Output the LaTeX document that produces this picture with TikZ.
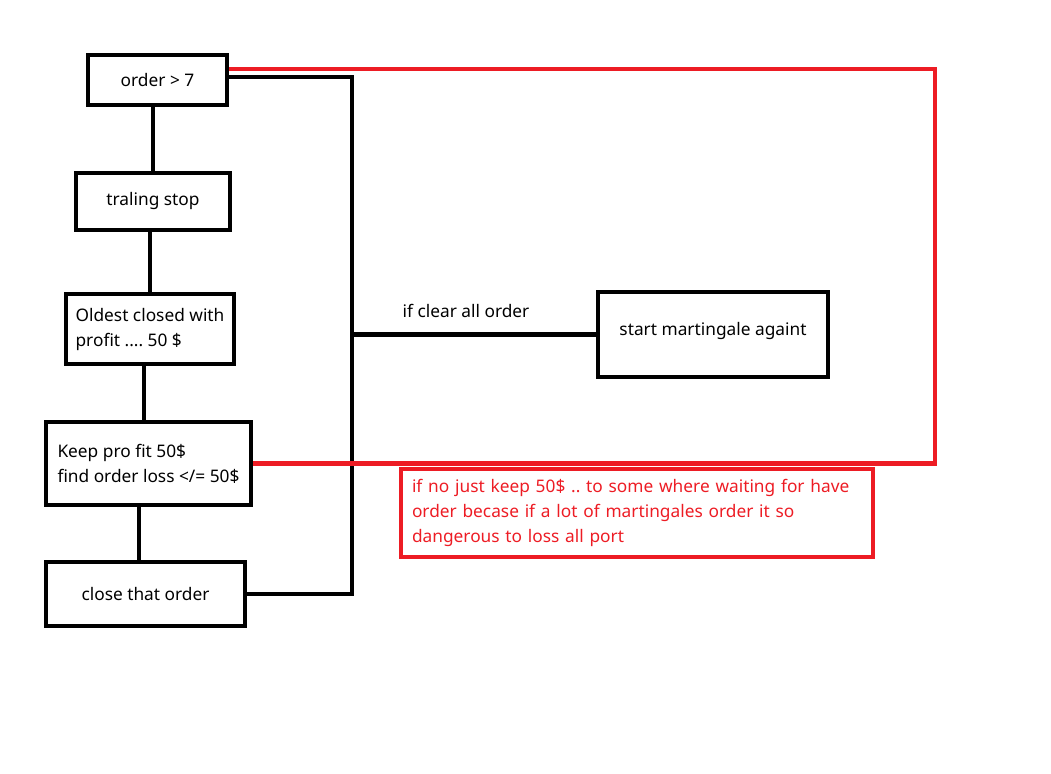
\documentclass[tikz,border=0pt]{standalone}
\usepackage{fontspec}
\setmainfont{Noto Sans}
\definecolor{paintred}{RGB}{237,28,36}
\frenchspacing

\begin{document}
\begin{tikzpicture}[x=1pt,y=-1pt,line width=4.5pt,
    box/.style={draw,rectangle,align=left,inner sep=0pt},
    link/.style={draw,line join=miter},
    warn/.style={link,paintred}]
    \def\couleur{paintred}
    \fontsize{17.3}{25}\selectfont
    \useasboundingbox (0,0) rectangle (1051,773);
    \node[box,minimum width=139,minimum height=50] (order) at (157.5,80) {order > 7};
    \node[box,minimum width=154,minimum height=57] (trail) at (153,201.5) {traling stop};
    \node[box,minimum width=168,minimum height=70] (oldest) at (150,329) {Oldest closed with\\profit .... 50 \$};
    \node[box,minimum width=205,minimum height=83] (keep) at (148.5,463.5) {Keep pro fit 50\$\\find order loss </= 50\$};
    \node[box,minimum width=199,minimum height=64] (close) at (145.5,594) {close that order};
    \node[box,minimum width=230,minimum height=85,text depth=12pt] (start) at (713,334.5) {start martingale againt};
    \node[box,draw=\couleur,text=\couleur,text width=450pt,inner xsep=11pt,minimum height=88] (note) at (637,513)
        {if no just keep 50\$ .. to some where waiting for have\\order becase if a lot of martingales order it so\\dangerous to loss all port};
    \node (cleartxt) at (466,311) {if clear all order};
    \coordinate (bus) at (352,0);
    \coordinate (redline) at (935,0);
    \draw[link] (trail.north) -- (trail.north |- order.south);
    \draw[link] (oldest.north) -- (oldest.north |- trail.south);
    \draw[link] ([xshift=-6pt]oldest.south) -- ([xshift=-6pt]oldest.south |- keep.north);
    \draw[link] ([xshift=-6.5pt]close.north) -- ([xshift=-6.5pt]close.north |- keep.south);
    \draw[link] ([yshift=3pt]order.east) -| (bus |- close.east) -- (close.east);
    \draw[link] (bus |- start.west) -- (start.west);
    \draw[warn] ([yshift=11pt]order.east) -| (redline |- keep.east) -- (keep.east);
\end{tikzpicture}
\end{document}
